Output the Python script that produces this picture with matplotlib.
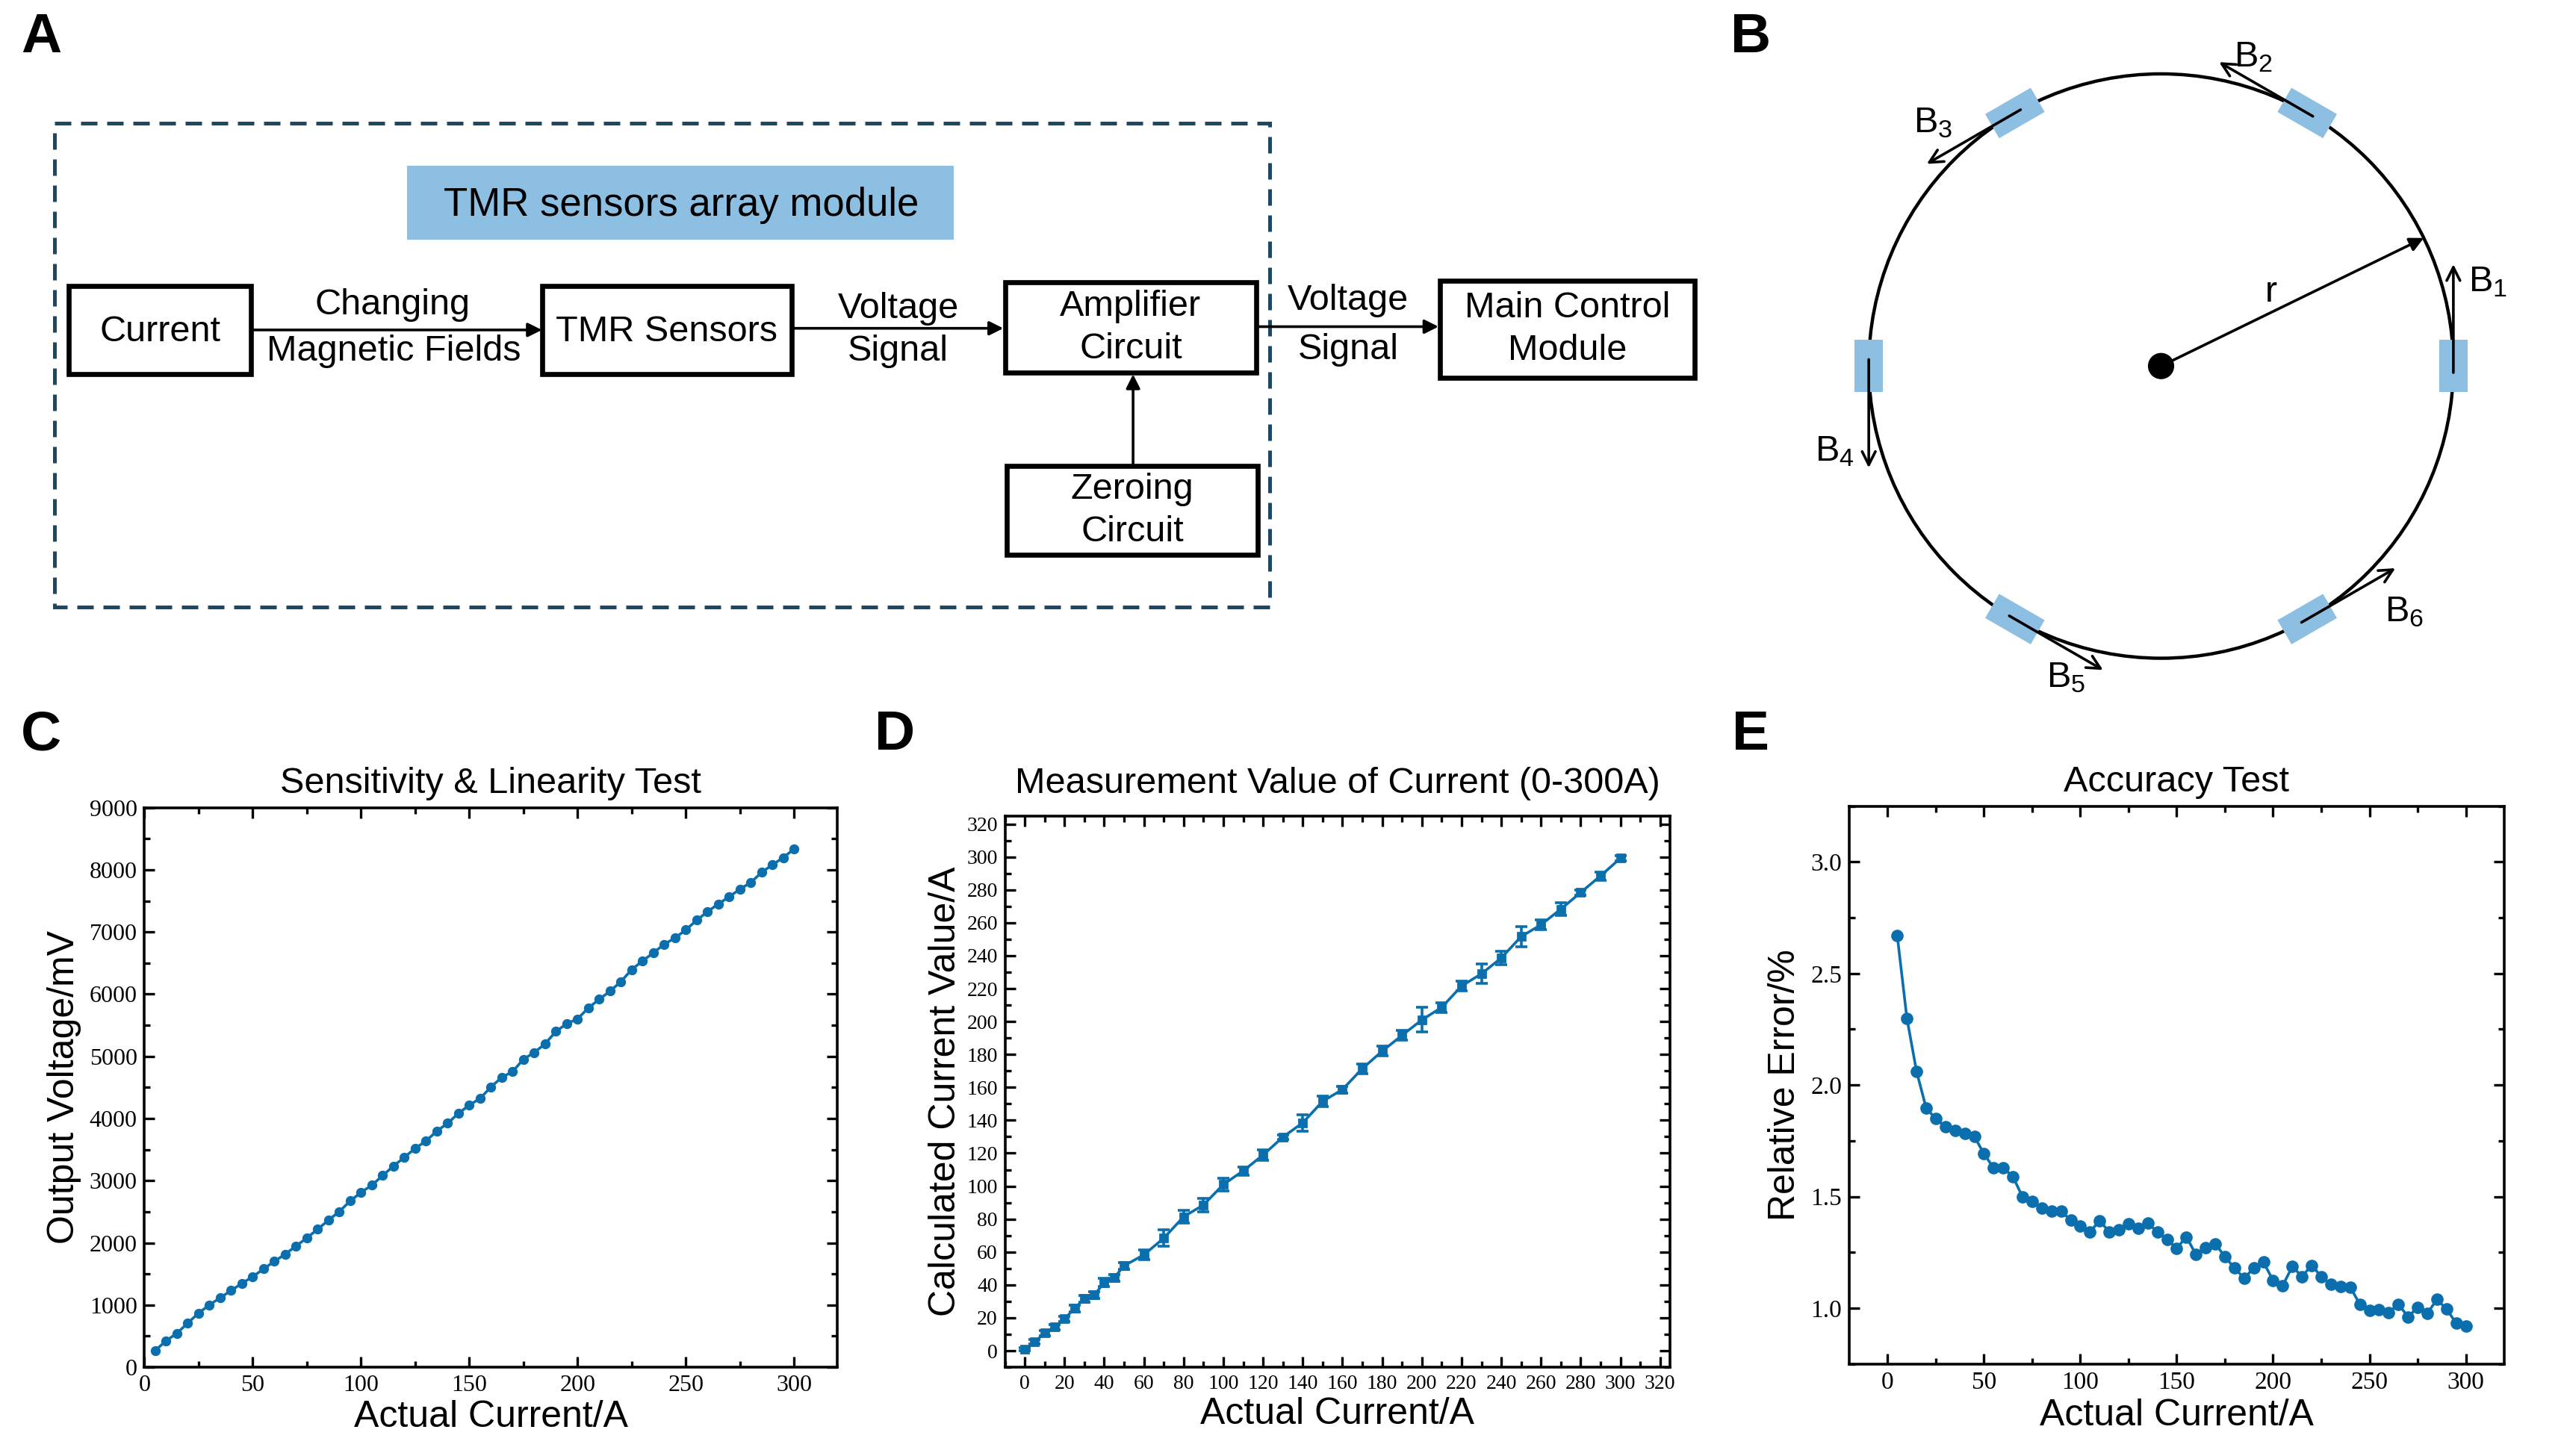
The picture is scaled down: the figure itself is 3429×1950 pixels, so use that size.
import numpy as np
import matplotlib
matplotlib.use("Agg")
import matplotlib.pyplot as plt
from matplotlib.patches import Rectangle, Circle, Polygon
from matplotlib.ticker import MultipleLocator, FuncFormatter

plt.rcParams['font.family'] = ['Liberation Sans', 'DejaVu Sans']
plt.rcParams['mathtext.fontset'] = 'custom'
plt.rcParams['mathtext.rm'] = 'Liberation Sans'

blue = '#0b6fae'
box_blue = '#8dbfe2'
dash_col = '#1d4763'

# panel C data
current_c = list(range(5, 301, 5))
voltage_c = [270, 424, 547, 709, 871, 1002, 1117, 1233, 1348, 1456,
             1580, 1703, 1818, 1949, 2080, 2219, 2366, 2504, 2674, 2812,
             2928, 3082, 3236, 3375, 3521, 3637, 3799, 3922, 4084, 4215,
             4323, 4507, 4662, 4754, 4954, 5062, 5201, 5401, 5525, 5602,
             5779, 5917, 6048, 6202, 6395, 6534, 6665, 6803, 6904, 7035,
             7189, 7327, 7451, 7566, 7690, 7797, 7959, 8082, 8197, 8336]

# panel D data
current_d = [0, 5, 10, 15, 20, 25, 30, 35, 40, 45, 50, 60, 70, 80, 90, 100,
             110, 120, 130, 140, 150, 160, 170, 180, 190, 200, 210, 220, 230,
             240, 250, 260, 270, 280, 290, 300]
calc_d = [0.8, 5.5, 10.7, 14.4, 19.3, 25.7, 31.7, 33.8, 41.5, 44.4, 51.6,
          58.3, 68.4, 81.4, 88.6, 101.0, 109.3, 118.9, 129.8, 138.5, 151.5,
          158.7, 171.4, 182.0, 191.6, 201.0, 208.6, 221.6, 229.0, 238.6,
          251.6, 258.8, 268.3, 278.4, 288.5, 299.2]
err_d = [1.0, 1.5, 1.5, 1.5, 1.5, 2.0, 2.0, 2.0, 2.5, 2.0, 2.0, 3.0, 5.0,
         4.0, 4.0, 4.0, 2.5, 3.0, 1.5, 5.0, 3.0, 2.0, 3.0, 3.0, 3.0, 7.5,
         3.0, 3.0, 6.0, 4.0, 6.0, 3.0, 4.0, 1.5, 2.5, 1.5]

# panel E data
current_e = list(range(5, 301, 5))
error_e = [2.670, 2.300, 2.062, 1.897, 1.849, 1.813, 1.796, 1.785, 1.770, 1.692,
           1.629, 1.629, 1.590, 1.499, 1.480, 1.449, 1.434, 1.434, 1.396, 1.368,
           1.343, 1.392, 1.343, 1.353, 1.379, 1.358, 1.381, 1.343, 1.309, 1.269,
           1.320, 1.241, 1.271, 1.290, 1.231, 1.180, 1.135, 1.180, 1.207, 1.125,
           1.102, 1.188, 1.142, 1.193, 1.142, 1.108, 1.099, 1.095, 1.019, 0.992,
           0.994, 0.981, 1.019, 0.962, 1.004, 0.977, 1.040, 0.996, 0.934, 0.920]

# panel B sensors
sensor_angles = [0, 60, 120, 180, 240, 300]

fig = plt.figure(figsize=(17.15, 9.75), dpi=200)

# overlay axes for the diagrams, in pixel-like units of the picture
ax0 = fig.add_axes([0, 0, 1, 1], zorder=0)
ax0.set_xlim(0, 1560)
ax0.set_ylim(887, 0)
ax0.axis('off')

fs = 17.5
# panel letters
for lab, x, y in [('A', 25, 23), ('B', 1066, 23), ('C', 25, 448), ('D', 545, 448), ('E', 1066, 448)]:
    ax0.text(x, y, lab, fontsize=27, fontweight='bold', ha='center', va='center')

#panel A : block diagram
ax0.add_patch(Rectangle((33, 75), 740, 295, fill=False, ec=dash_col, lw=1.8,
                        ls=(0, (4.4, 2.6))))
ax0.add_patch(Rectangle((248, 101), 333, 45, fc=box_blue, ec='none'))
ax0.text(415, 125, 'TMR sensors array module', fontsize=19, ha='center', va='center')

boxes = [((42, 174), 111, 54, ['Current']),
         ((330, 174), 152, 54, ['TMR Sensors']),
         ((612, 172), 153, 55, ['Amplifier', 'Circuit']),
         ((613, 284), 153, 54, ['Zeroing', 'Circuit']),
         ((877, 171), 155, 59, ['Main Control', 'Module'])]
for (bx, by), bw, bh, lines in boxes:
    ax0.add_patch(Rectangle((bx, by), bw, bh, fill=False, ec='black', lw=2.4))
    cx = bx + bw / 2
    if len(lines) == 1:
        ax0.text(cx, by + bh / 2 + 1, lines[0], fontsize=fs, ha='center', va='center')
    else:
        ax0.text(cx, by + bh / 2 - 13, lines[0], fontsize=fs, ha='center', va='center')
        ax0.text(cx, by + bh / 2 + 13, lines[1], fontsize=fs, ha='center', va='center')

arrow_a = dict(arrowstyle='-|>', color='black', lw=1.3, mutation_scale=14, shrinkA=0, shrinkB=0)
ax0.annotate('', xy=(330, 201), xytext=(153, 201), arrowprops=arrow_a)
ax0.annotate('', xy=(611, 200), xytext=(482, 200), arrowprops=arrow_a)
ax0.annotate('', xy=(876, 199), xytext=(765, 199), arrowprops=arrow_a)
ax0.annotate('', xy=(690, 228), xytext=(690, 284), arrowprops=arrow_a)
ax0.text(239, 186, 'Changing', fontsize=fs, ha='center', va='center')
ax0.text(240, 214, 'Magnetic Fields', fontsize=fs, ha='center', va='center')
ax0.text(547, 188, 'Voltage', fontsize=fs, ha='center', va='center')
ax0.text(547, 214, 'Signal', fontsize=fs, ha='center', va='center')
ax0.text(821, 183, 'Voltage', fontsize=fs, ha='center', va='center')
ax0.text(821, 213, 'Signal', fontsize=fs, ha='center', va='center')

#panel B : sensor ring
cxb, cyb, rb = 1316, 223, 178
ax0.add_patch(Circle((cxb, cyb), rb, fill=False, ec='black', lw=1.6))
ax0.add_patch(Circle((cxb, cyb), 8, fc='black', ec='none'))
arrow_b = dict(arrowstyle='->', color='black', lw=1.3, mutation_scale=16, shrinkA=0, shrinkB=0)
label_pos = [(1515, 172), (1372, 35), (1177, 75), (1117, 275), (1258, 413), (1464, 373)]
for i, ang in enumerate(sensor_angles):
    t = np.deg2rad(ang)
    px, py = cxb + rb * np.cos(t), cyb - rb * np.sin(t)
    # tangent (counter clockwise) and radial directions in picture coords
    tx, ty = -np.sin(t), -np.cos(t)
    rx, ry = np.cos(t), -np.sin(t)
    hl, hw = 16, 8.5
    corners = [(px + tx * hl + rx * hw, py + ty * hl + ry * hw),
               (px - tx * hl + rx * hw, py - ty * hl + ry * hw),
               (px - tx * hl - rx * hw, py - ty * hl - ry * hw),
               (px + tx * hl - rx * hw, py + ty * hl - ry * hw)]
    ax0.add_patch(Polygon(corners, closed=True, fc=box_blue, ec='none', zorder=2))
    ax0.annotate('', xy=(px + tx * 62, py + ty * 62), xytext=(px - tx * 4, py - ty * 4),
                 arrowprops=arrow_b, zorder=3)
    lx, ly = label_pos[i]
    ax0.text(lx, ly, r'$\mathregular{B_%d}$' % (i + 1), fontsize=fs, ha='center', va='center')

ax0.annotate('', xy=(1476, 145), xytext=(cxb, cyb),
             arrowprops=dict(arrowstyle='-|>', color='black', lw=1.3, mutation_scale=14,
                             shrinkA=0, shrinkB=0))
ax0.text(1383, 178, 'r', fontsize=fs, ha='center', va='center')


def style_axes(ax, fsize):
    ax.tick_params(which='both', direction='in', top=True, right=True, width=1.2,
                   labelsize=fsize)
    ax.tick_params(which='major', length=5)
    ax.tick_params(which='minor', length=3)
    for s in ax.spines.values():
        s.set_linewidth(1.3)
    for lab in ax.get_xticklabels() + ax.get_yticklabels():
        lab.set_family('Liberation Serif')


#panel C
axc = fig.add_axes([0.0564, 0.061, 0.2705, 0.3843], zorder=1)
axc.plot(current_c, voltage_c, '-o', color=blue, lw=1.3, ms=3.8)
axc.set_xlim(0, 320)
axc.set_ylim(0, 9000)
axc.set_xticks(range(0, 301, 50))
axc.xaxis.set_minor_locator(MultipleLocator(25))
axc.yaxis.set_major_locator(MultipleLocator(1000))
axc.yaxis.set_minor_locator(MultipleLocator(500))
axc.set_title('Sensitivity & Linearity Test', fontsize=17.5, pad=7)
axc.set_xlabel('Actual Current/A', fontsize=18, labelpad=2)
axc.set_ylabel('Output Voltage/mV', fontsize=18)
style_axes(axc, 11.5)

#panel D
axd = fig.add_axes([0.3923, 0.061, 0.2596, 0.3787], zorder=1)
axd.errorbar(current_d, calc_d, yerr=err_d, fmt='-s', color=blue, lw=1.3, ms=3.5,
             elinewidth=1.3, capsize=2.8, capthick=1.3)
axd.set_xlim(-10, 325)
axd.set_ylim(-10, 325)
axd.xaxis.set_minor_locator(MultipleLocator(10))
axd.yaxis.set_minor_locator(MultipleLocator(10))
axd.set_xticks(range(0, 321, 20))
axd.set_yticks(range(0, 321, 20))
axd.set_title('Measurement Value of Current (0-300A)', fontsize=17.5, pad=11)
axd.set_xlabel('Actual Current/A', fontsize=18, labelpad=2)
axd.set_ylabel('Calculated Current Value/A', fontsize=18, labelpad=2)
style_axes(axd, 10)

#panel E
axe = fig.add_axes([0.7218, 0.0631, 0.2558, 0.3833], zorder=1)
axe.plot(current_e, error_e, '-o', color=blue, lw=1.3, ms=5)
axe.set_xlim(-20, 320)
axe.set_ylim(0.75, 3.25)
axe.set_xticks(range(0, 301, 50))
axe.xaxis.set_minor_locator(MultipleLocator(25))
axe.set_yticks([1.0, 1.5, 2.0, 2.5, 3.0])
axe.yaxis.set_minor_locator(MultipleLocator(0.25))
axe.yaxis.set_major_formatter(FuncFormatter(lambda v, p: '%.1f' % v))
axe.set_title('Accuracy Test', fontsize=17.5, pad=7)
axe.set_xlabel('Actual Current/A', fontsize=18, labelpad=2)
axe.set_ylabel('Relative Error/%', fontsize=18)
style_axes(axe, 12)

plt.savefig('out.png', dpi=200)
